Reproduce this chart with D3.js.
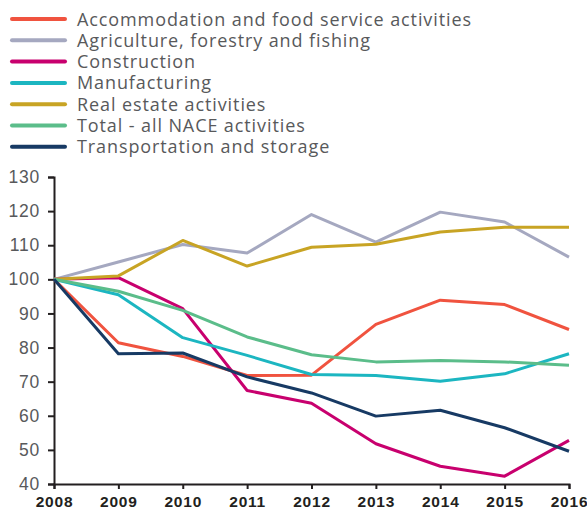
<!DOCTYPE html>
<html>
<head>
<meta charset="utf-8">
<script src="https://cdn.jsdelivr.net/npm/d3@7"></script>
<style>
  body { margin: 0; background: #fff; }
  svg { display: block; font-family: "Open Sans", sans-serif; }
</style>
</head>
<body>
<svg id="chart"></svg>
<script>
const width = 587;
const height = 513;

const years = [2008, 2009, 2010, 2011, 2012, 2013, 2014, 2015, 2016];
const yTicks = [40, 50, 60, 70, 80, 90, 100, 110, 120, 130];

const seriesNames = [
  "Accommodation and food service activities",
  "Agriculture, forestry and fishing",
  "Construction",
  "Manufacturing",
  "Real estate activities",
  "Total - all NACE activities",
  "Transportation and storage"
];
const seriesColors = ["#f0533f", "#a5a8c0", "#c8006e", "#1cb6c1", "#c8a424", "#5bbd8a", "#173a64"];

const accommodation = [100, 81.4, 77.4, 71.8, 71.9, 86.8, 93.9, 92.6, 85.3];
const agriculture   = [100, 105.1, 110.2, 107.7, 119.0, 110.9, 119.7, 116.8, 106.5];
const construction  = [100, 100.5, 91.4, 67.4, 63.7, 51.8, 45.2, 42.3, 52.8];
const manufacturing = [100, 95.5, 82.9, 77.7, 72.1, 71.8, 70.1, 72.3, 78.2];
const realEstate    = [100, 101.0, 111.4, 103.9, 109.4, 110.3, 113.9, 115.3, 115.3];
const total         = [100, 96.5, 90.9, 83.1, 77.9, 75.8, 76.2, 75.8, 74.8];
const transport     = [100, 78.2, 78.4, 71.4, 66.7, 59.9, 61.6, 56.5, 49.6];

const seriesValues = [accommodation, agriculture, construction, manufacturing, realEstate, total, transport];

const svg = d3.select("#chart")
  .attr("width", width)
  .attr("height", height);

const margin = { top: 177, right: 18, bottom: 29, left: 54 };
const innerWidth = width - margin.left - margin.right;
const innerHeight = height - margin.top - margin.bottom;

const xScale = d3.scaleLinear()
  .domain([2008, 2016])
  .range([0, innerWidth]);

const yScale = d3.scaleLinear()
  .domain([40, 130])
  .range([innerHeight, 0]);

const g = svg.append("g")
  .attr("transform", `translate(${margin.left},${margin.top})`);

// Axes
const xAxisG = g.append("g")
  .attr("transform", `translate(0,${innerHeight})`)
  .call(d3.axisBottom(xScale).tickValues(years).tickFormat(d3.format("d")).tickSize(5).tickPadding(7));

xAxisG.selectAll("text")
  .style("font-size", "15.5px")
  .style("font-weight", "700")
  .style("letter-spacing", "0.8px")
  .attr("fill", "#231f20");

const yAxisG = g.append("g")
  .call(d3.axisLeft(yScale).tickValues(yTicks).tickSize(6).tickPadding(8));

yAxisG.selectAll("text")
  .style("font-size", "17.5px")
  .style("letter-spacing", "0.8px")
  .attr("fill", "#58595b");

[xAxisG, yAxisG].forEach(a => {
  a.select(".domain").attr("stroke", "#231f20").attr("stroke-width", 2);
  a.selectAll(".tick line").attr("stroke", "#231f20").attr("stroke-width", 2);
});

// Lines
const lineGenerator = d3.line()
  .x((d, i) => xScale(years[i]))
  .y(d => yScale(d));

seriesValues.forEach((vals, i) => {
  g.append("path")
    .datum(vals)
    .attr("fill", "none")
    .attr("stroke", seriesColors[i])
    .attr("stroke-width", 3)
    .attr("stroke-linejoin", "round")
    .attr("d", lineGenerator);
});

// Legend
const legend = svg.append("g")
  .attr("transform", "translate(12,19)");

seriesNames.forEach((name, i) => {
  const row = legend.append("g")
    .attr("transform", `translate(0,${i * 21.3})`);
  row.append("line")
    .attr("x1", 0).attr("x2", 53)
    .attr("stroke", seriesColors[i])
    .attr("stroke-width", 4)
    .attr("stroke-linecap", "round");
  row.append("text")
    .attr("x", 65)
    .attr("y", 6.5)
    .attr("fill", "#58595b")
    .style("font-size", "18px")
    .style("letter-spacing", "0.9px")
    .text(name);
});
</script>
</body>
</html>
